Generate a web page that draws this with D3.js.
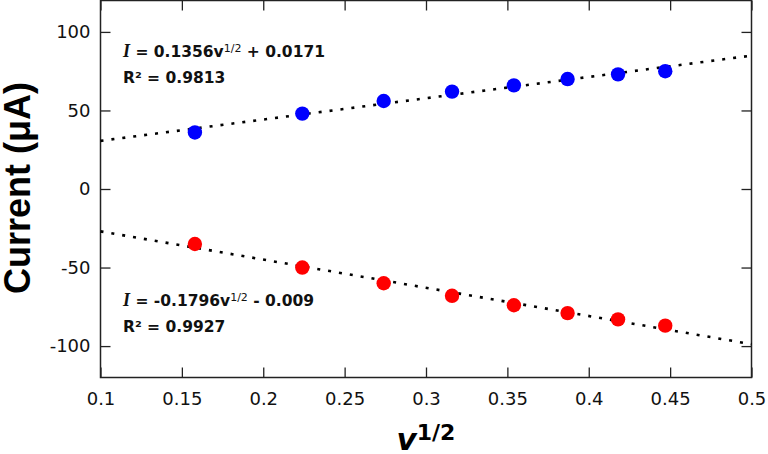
<!DOCTYPE html>
<html><head><meta charset="utf-8">
<script src="https://cdn.jsdelivr.net/npm/d3@7"></script>
<style>body{margin:0;background:#fff}svg{display:block}</style>
</head><body>
<svg id="c" width="768" height="454"></svg>
<script>
const scanRoot = [0.158, 0.224, 0.274, 0.316, 0.354, 0.387, 0.418, 0.447];
const anodic = [36, 48, 56, 62, 66, 70, 73, 75];
const cathodic = [-35, -50, -60, -68, -74, -79, -83, -87];
const anodicFit = {slope: 135.6, intercept: 17.1};
const cathodicFit = {slope: -179.6, intercept: -9};
const xTicks = [0.1, 0.15, 0.2, 0.25, 0.3, 0.35, 0.4, 0.45, 0.5];
const yTicks = [-100, -50, 0, 50, 100];

const svg = d3.select("#c");
const L = 100.5, R = 751.5, T = 0.5, B = 377.5;
const x = d3.scaleLinear().domain([0.1, 0.5]).range([L, R]);
const y = d3.scaleLinear().domain([-120, 120]).range([B, T]);
const fmt = d => String(d);

const tickFont = "'DejaVu Sans', Verdana, sans-serif";
function styleAxis(g, labels) {
  g.select(".domain").remove();
  g.selectAll(".tick line").attr("stroke", "#222").attr("stroke-width", 1.3);
  g.selectAll(".tick text").attr("font-family", tickFont).attr("font-size", 18).attr("fill", "#111");
  if (!labels) g.selectAll(".tick text").remove();
}
svg.append("g").attr("transform", `translate(0,${B})`)
  .call(d3.axisBottom(x).tickValues(xTicks).tickSize(-10).tickPadding(15).tickFormat(fmt))
  .call(g => styleAxis(g, true));
svg.append("g").attr("transform", `translate(0,${T})`)
  .call(d3.axisTop(x).tickValues(xTicks).tickSize(-10).tickFormat(""))
  .call(g => styleAxis(g, false));
svg.append("g").attr("transform", `translate(${L},0)`)
  .call(d3.axisLeft(y).tickValues(yTicks).tickSize(-10).tickPadding(10).tickFormat(fmt))
  .call(g => styleAxis(g, true));
svg.append("g").attr("transform", `translate(${R},0)`)
  .call(d3.axisRight(y).tickValues(yTicks).tickSize(-10).tickFormat(""))
  .call(g => styleAxis(g, false));

svg.append("rect").attr("x", L).attr("y", T).attr("width", R - L).attr("height", B - T)
  .attr("fill", "none").attr("stroke", "#222").attr("stroke-width", 1.5);

// trend lines
const line = d3.line().x(d => x(d[0])).y(d => y(d[1]));
[anodicFit, cathodicFit].forEach(f => {
  const pts = [0.1, 0.5].map(v => [v, f.slope * v + f.intercept]);
  svg.append("path").attr("d", line(pts)).attr("fill", "none")
    .attr("stroke", "#000").attr("stroke-width", 2.6).attr("stroke-dasharray", "3,8");
});

// points
svg.append("g").selectAll("circle").data(scanRoot).join("circle")
  .attr("cx", d => x(d)).attr("cy", (d, i) => y(anodic[i])).attr("r", 7.2).attr("fill", "#0000ff");
svg.append("g").selectAll("circle").data(scanRoot).join("circle")
  .attr("cx", d => x(d)).attr("cy", (d, i) => y(cathodic[i])).attr("r", 7.2).attr("fill", "#ff0000");

// annotations
const annFont = "'DejaVu Sans', Verdana, sans-serif";
function eq(yb, coef, rest, r2) {
  const t = svg.append("text").attr("x", 123).attr("y", yb)
    .attr("font-family", annFont).attr("font-weight", "bold").attr("font-size", 15.5).attr("fill", "#111");
  t.append("tspan").attr("font-family", "'Liberation Serif', serif").attr("font-style", "italic").attr("font-size", 18).text("I");
  t.append("tspan").text(" = " + coef + "v");
  t.append("tspan").attr("font-size", 11).attr("font-weight", "normal").attr("dy", -5).text("1/2");
  t.append("tspan").attr("dy", 5).text(" " + rest);
  svg.append("text").attr("x", 123).attr("y", yb + 26)
    .attr("font-family", annFont).attr("font-weight", "bold").attr("font-size", 15.5).attr("fill", "#111")
    .text("R² = " + r2);
}
eq(57, "0.1356", "+ 0.0171", "0.9813");
eq(306, "-0.1796", "- 0.009", "0.9927");

// axis titles
svg.append("text").attr("transform", "translate(30,188) rotate(-90)")
  .attr("text-anchor", "middle").attr("font-family", "'Liberation Sans', Arial, sans-serif")
  .attr("font-weight", "bold").attr("font-size", 36).attr("fill", "#000").text("Current (μA)");
const xt = svg.append("text").attr("x", 426).attr("y", 450).attr("text-anchor", "middle")
  .attr("font-family", "'DejaVu Sans', Verdana, sans-serif").attr("font-weight", "bold").attr("fill", "#000");
xt.append("tspan").attr("font-style", "italic").attr("font-size", 31).text("v");
xt.append("tspan").attr("font-size", 22).attr("dy", -10).text("1/2");
</script>
</body></html>
